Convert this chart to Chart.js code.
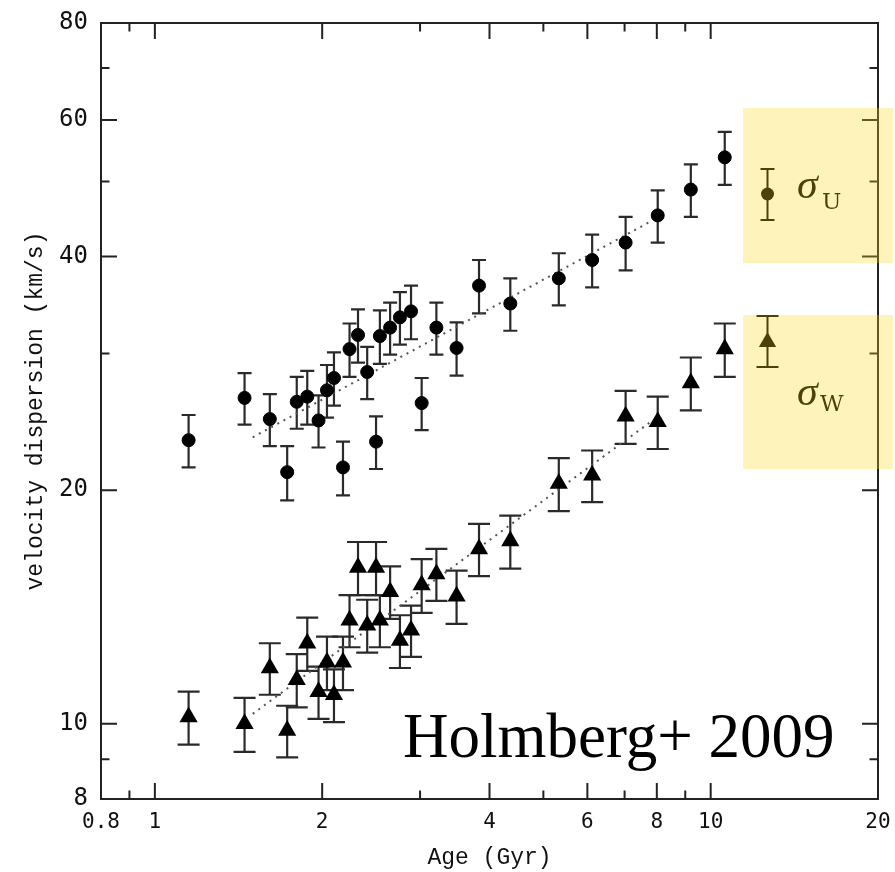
<!DOCTYPE html>
<html>
<head>
<meta charset="utf-8">
<script src="https://cdn.jsdelivr.net/npm/chart.js@4.4.1/dist/chart.umd.min.js"></script>
<style>
  html, body { margin: 0; padding: 0; background: #fff; }
  canvas { display: block; }
</style>
</head>
<body>
<canvas id="chart" width="895" height="872"></canvas>
<script>
// Age bins (Gyr), shared by both velocity components
const ages = [1.15, 1.45, 1.61, 1.73, 1.80, 1.88, 1.97, 2.04, 2.10, 2.18,
              2.24, 2.32, 2.41, 2.50, 2.54, 2.65, 2.76, 2.89, 3.02, 3.21,
              3.49, 3.83, 4.36, 5.33, 6.12, 7.03, 8.03, 9.21, 10.6];

// sigma_U (km/s) and its uncertainty
const sigmaU = [23.2, 26.3, 24.7, 21.1, 26.0, 26.4, 24.6, 26.9, 27.9, 21.4,
                30.4, 31.7, 28.4, 23.1, 31.6, 32.4, 33.4, 34.0, 25.9, 32.4,
                30.5, 36.7, 34.8, 37.5, 39.6, 41.7, 45.2, 48.8, 53.7];
const errU = [1.8, 2.0, 1.9, 1.7, 2.0, 2.1, 1.9, 2.1, 2.2, 1.7,
              2.4, 2.5, 2.2, 1.8, 2.5, 2.5, 2.6, 2.7, 2.0, 2.5,
              2.4, 2.9, 2.7, 2.9, 3.1, 3.3, 3.5, 3.8, 4.2];

// sigma_W (km/s) and its uncertainty
const sigmaW = [10.2, 10.0, 11.8, 9.8, 11.4, 12.7, 11.0, 12.0, 10.9, 12.0,
                13.6, 15.9, 13.4, 15.9, 13.6, 14.8, 12.8, 13.2, 15.1, 15.6,
                14.6, 16.8, 17.2, 20.4, 20.9, 24.9, 24.5, 27.5, 30.4];
const errW = [0.8, 0.8, 0.9, 0.75, 0.9, 1.0, 0.85, 0.95, 0.85, 0.95,
              1.05, 1.25, 1.05, 1.25, 1.05, 1.15, 1.0, 1.0, 1.2, 1.2,
              1.15, 1.3, 1.35, 1.6, 1.6, 1.95, 1.9, 2.15, 2.4];

// Power-law fits (straight in log-log), end points
const fitAges = [1.5, 7.8];
const fitU = [23.4, 44.4];
const fitW = [10.3, 24.5];

// Axis ticks
const xLabelValues = [0.8, 1, 2, 4, 6, 8, 10, 20];
const xMajorTicks = [1, 2, 4, 6, 8, 10];
const xMinorTicks = [0.9, 3, 5, 7, 9];
const yLabelValues = [8, 10, 20, 40, 60, 80];
const yMajorTicks = [10, 20, 40, 60];
const yMinorTicks = [9, 30, 50, 70];

const LONG_TICK = 16;
const SHORT_TICK = 8.5;
const INK = '#222';

function toPoints(xs, ys) {
  return xs.map((x, i) => ({ x: x, y: ys[i] }));
}

// Vertical error bars with caps, drawn under the markers
const errorBars = {
  id: 'errorBars',
  beforeDatasetsDraw(chart) {
    const { ctx, chartArea: a, scales: { x, y } } = chart;
    ctx.save();
    ctx.beginPath();
    ctx.rect(a.left, a.top, a.right - a.left, a.bottom - a.top);
    ctx.clip();
    ctx.strokeStyle = '#2a2a2a';
    ctx.lineWidth = 2.2;
    chart.data.datasets.forEach(ds => {
      if (!ds.errors) return;
      const hw = ds.capHalfWidth;
      ds.data.forEach((p, i) => {
        const px = x.getPixelForValue(p.x);
        const top = y.getPixelForValue(p.y + ds.errors[i]);
        const bot = y.getPixelForValue(p.y - ds.errors[i]);
        ctx.beginPath();
        ctx.moveTo(px, top); ctx.lineTo(px, bot);
        ctx.moveTo(px - hw, top); ctx.lineTo(px + hw, top);
        ctx.moveTo(px - hw, bot); ctx.lineTo(px + hw, bot);
        ctx.stroke();
      });
    });
    ctx.restore();
  }
};

// Box frame with inward ticks on all four sides
const frame = {
  id: 'frame',
  afterDatasetsDraw(chart) {
    const { ctx, chartArea: a, scales: { x, y } } = chart;
    ctx.save();
    ctx.strokeStyle = INK;
    ctx.lineWidth = 2;
    ctx.strokeRect(a.left, a.top, a.right - a.left, a.bottom - a.top);
    ctx.beginPath();
    const xt = xMajorTicks.map(v => [v, LONG_TICK]).concat(xMinorTicks.map(v => [v, SHORT_TICK]));
    xt.forEach(([v, len]) => {
      const px = x.getPixelForValue(v);
      ctx.moveTo(px, a.bottom); ctx.lineTo(px, a.bottom - len);
      ctx.moveTo(px, a.top); ctx.lineTo(px, a.top + len);
    });
    const yt = yMajorTicks.map(v => [v, LONG_TICK]).concat(yMinorTicks.map(v => [v, SHORT_TICK]));
    yt.forEach(([v, len]) => {
      const py = y.getPixelForValue(v);
      ctx.moveTo(a.left, py); ctx.lineTo(a.left + len, py);
      ctx.moveTo(a.right, py); ctx.lineTo(a.right - len, py);
    });
    ctx.stroke();
    ctx.restore();
  }
};

// Key boxes and the citation text
const decorations = {
  id: 'decorations',
  afterDraw(chart) {
    const { ctx } = chart;
    ctx.save();

    ctx.fillStyle = '#000';
    ctx.font = '63px "Liberation Serif", "Times New Roman", serif';
    ctx.textBaseline = 'alphabetic';
    ctx.textAlign = 'left';
    ctx.fillText('Holmberg+ 2009', 403, 757);

    const keyX = 767.5;
    ctx.strokeStyle = '#000';
    ctx.fillStyle = '#000';
    ctx.lineWidth = 2;

    // sigma_U key
    ctx.beginPath();
    ctx.moveTo(keyX, 169); ctx.lineTo(keyX, 220);
    ctx.moveTo(keyX - 7, 169); ctx.lineTo(keyX + 7, 169);
    ctx.moveTo(keyX - 7, 220); ctx.lineTo(keyX + 7, 220);
    ctx.stroke();
    Chart.helpers.drawPoint(ctx, { pointStyle: 'circle', radius: 6.5, borderWidth: 0 }, keyX, 194);

    // sigma_W key
    ctx.beginPath();
    ctx.moveTo(keyX, 316); ctx.lineTo(keyX, 367);
    ctx.moveTo(keyX - 11, 316); ctx.lineTo(keyX + 11, 316);
    ctx.moveTo(keyX - 11, 367); ctx.lineTo(keyX + 11, 367);
    ctx.stroke();
    Chart.helpers.drawPoint(ctx, { pointStyle: 'triangle', radius: 10, borderWidth: 0 }, keyX, 342);

    ctx.font = 'italic 42px "Liberation Serif", serif';
    ctx.fillText('\u03C3', 797, 198);
    ctx.fillText('\u03C3', 797, 405);
    ctx.font = '23px "DejaVu Serif", serif';
    ctx.fillText('U', 822, 209);
    ctx.fillText('W', 820, 411);

    // translucent highlight laid over the key entries
    ctx.fillStyle = 'rgba(248, 215, 30, 0.3)';
    ctx.fillRect(743, 108, 150, 155);
    ctx.fillRect(743, 315, 150, 154);

    ctx.restore();
  }
};

new Chart(document.getElementById('chart'), {
  type: 'scatter',
  data: {
    datasets: [
      {
        label: 'sigma_U',
        data: toPoints(ages, sigmaU),
        errors: errU,
        capHalfWidth: 7,
        pointStyle: 'circle',
        pointRadius: 6.5,
        pointBorderWidth: 1,
        pointBackgroundColor: '#000',
        pointBorderColor: '#000',
        order: 1
      },
      {
        label: 'sigma_W',
        data: toPoints(ages, sigmaW),
        errors: errW,
        capHalfWidth: 11,
        pointStyle: 'triangle',
        pointRadius: 10.5,
        pointBorderWidth: 0,
        pointBackgroundColor: '#000',
        pointBorderColor: '#000',
        order: 1
      },
      {
        type: 'line',
        label: 'fit U',
        data: toPoints(fitAges, fitU),
        borderColor: '#555',
        borderWidth: 2,
        borderDash: [2, 5],
        pointRadius: 0,
        fill: false,
        order: 2
      },
      {
        type: 'line',
        label: 'fit W',
        data: toPoints(fitAges, fitW),
        borderColor: '#555',
        borderWidth: 2,
        borderDash: [2, 5],
        pointRadius: 0,
        fill: false,
        order: 2
      }
    ]
  },
  options: {
    responsive: false,
    animation: false,
    devicePixelRatio: 1,
    events: [],
    layout: { padding: { top: 23, right: 17, left: 0, bottom: 0 } },
    plugins: { legend: { display: false }, tooltip: { enabled: false } },
    scales: {
      x: {
        type: 'logarithmic',
        position: 'bottom',
        min: 0.8,
        max: 20,
        grid: { display: false, drawTicks: false },
        border: { display: false },
        afterBuildTicks: s => { s.ticks = xLabelValues.map(v => ({ value: v })); },
        afterFit: s => { s.height = 73; s.paddingLeft = 0; s.paddingRight = 0; },
        ticks: {
          autoSkip: false,
          maxRotation: 0,
          minRotation: 0,
          padding: 11,
          color: '#111',
          font: { family: '"DejaVu Sans Mono", monospace', size: 21 },
          callback: v => String(v)
        },
        title: {
          display: true,
          text: 'Age (Gyr)',
          color: '#111',
          font: { family: '"Liberation Mono", monospace', size: 23 },
          padding: { top: 0, bottom: 0 }
        }
      },
      y: {
        type: 'logarithmic',
        position: 'left',
        min: 8,
        max: 80,
        grid: { display: false, drawTicks: false },
        border: { display: false },
        afterBuildTicks: s => { s.ticks = yLabelValues.map(v => ({ value: v })); },
        afterFit: s => { s.width = 101; s.paddingTop = 0; s.paddingBottom = 0; },
        ticks: {
          autoSkip: false,
          padding: 13,
          color: '#111',
          font: { family: '"DejaVu Sans Mono", monospace', size: 24 },
          callback: v => String(v)
        },
        title: {
          display: true,
          text: 'velocity dispersion (km/s)',
          color: '#111',
          font: { family: '"Liberation Mono", monospace', size: 23 },
          padding: { top: 22, bottom: 0 }
        }
      }
    }
  },
  plugins: [errorBars, frame, decorations]
});
</script>
</body>
</html>
